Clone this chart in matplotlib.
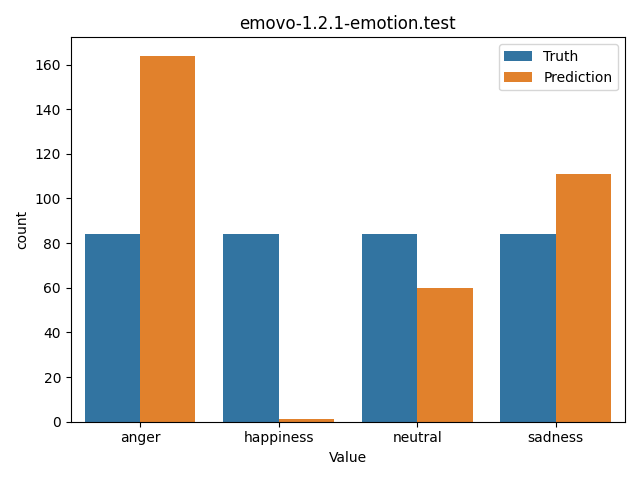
import matplotlib
matplotlib.use("Agg")
import matplotlib.pyplot as plt
import seaborn as sns
import pandas as pd

categories = ["anger", "happiness", "neutral", "sadness"]
truth = [84, 84, 84, 84]
prediction = [164, 1, 60, 111]

df = pd.DataFrame({
    "Value": categories * 2,
    "count": truth + prediction,
    "hue": ["Truth"] * len(categories) + ["Prediction"] * len(categories),
})

fig, ax = plt.subplots(figsize=(6.4, 4.8), dpi=100)
sns.barplot(data=df, x="Value", y="count", hue="hue", ax=ax, saturation=0.75)
ax.set_title("emovo-1.2.1-emotion.test")
ax.legend(title=None, loc="upper right")
fig.tight_layout()
fig.savefig("out.png")
